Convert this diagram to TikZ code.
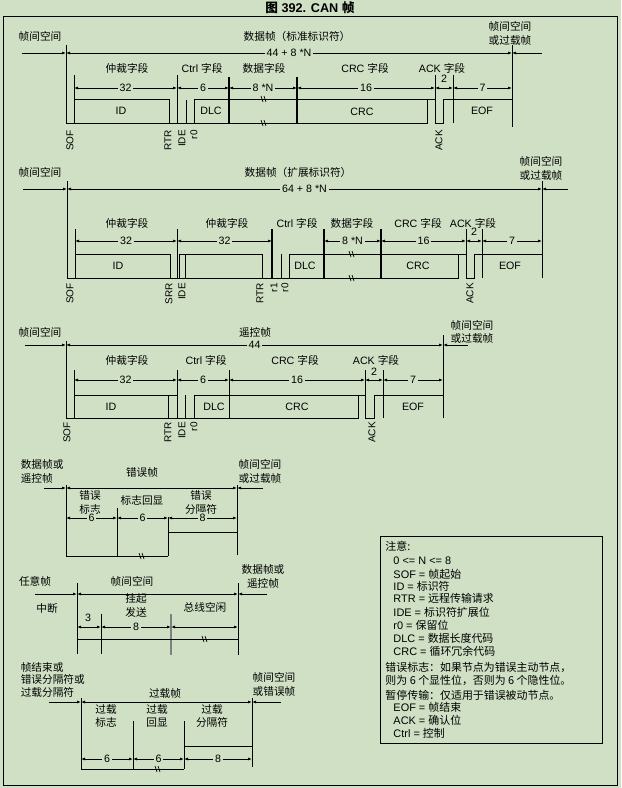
\documentclass[tikz,border=0pt]{standalone}
\usepackage{fontspec}
\setmainfont{Liberation Sans}
\newfontfamily\zh{Noto Sans CJK SC}
\usepackage{xcolor}
\usetikzlibrary{arrows.meta}
\definecolor{bggreen}{RGB}{207,224,196}

\begin{document}
\begin{tikzpicture}[x=0.75pt,y=-0.75pt,line width=0.7pt]
	\tikzstyle{lab}=[inner sep=1pt,align=center,font=\fontsize{8}{10}\selectfont]
	\tikzstyle{zlab}=[lab,font=\zh\fontsize{8}{10}\selectfont]
	\tikzstyle{dlab}=[lab,fill=bggreen,inner sep=1.5pt]
	\tikzstyle{bit}=[lab,rotate=90,anchor=east,font=\fontsize{7.5}{8}\selectfont,inner sep=0.5pt]
	\tikzstyle{lead}=[-{Latex[length=3pt,width=2.2pt]}]
	\tikzstyle{dimline}=[{Latex[length=3pt,width=2.2pt]}-{Latex[length=3pt,width=2.2pt]}]
	\tikzstyle{heavy}=[line width=1.1pt]
	\tikzstyle{brk}=[line width=0.5pt]
	\tikzstyle{note}=[anchor=west,inner sep=0pt,font=\fontsize{8.2}{10}\selectfont]

	\fill[bggreen] (0,0) rectangle (621,788);
	\useasboundingbox (0,0) rectangle (621,788);
	\draw (3,16) rectangle (617,785);
	\node[font=\bfseries\fontsize{9.5}{11}\selectfont] (title) at (310,8) {{\zh 图} 392. CAN {\zh 帧}};

	% data frame, standard identifier
	\node[zlab] (f1l) at (40,36) {帧间空间};
	\node[zlab] (f1t) at (297,36) {数据帧（标准标识符）};
	\node[zlab] (f1r) at (510,33.5) {帧间空间\\或过载帧};
	\draw[lead] (22,53) -- (66,53);
	\draw[dimline] (66,53) -- node[dlab] (f1n) {44 + 8 *N} (512,53);
	\draw[lead] (542,53) -- (512,53);
	\foreach \x/\t [count=\i] in {127/{\zh 仲裁字段},202/{Ctrl \zh 字段},264/{\zh 数据字段},365/{CRC \zh 字段},442/{ACK \zh 字段}}
		\node[lab] (f1f\i) at (\x,68) {\t};
	\foreach \a/\b/\t [count=\i] in {74/177/32,177/229/6,229/297/8 *N,297/435/16,453/512/7}
		\draw[dimline] (\a,88) -- node[dlab] (f1d\i) {\t} (\b,88);
	\draw[dimline] (435,88) -- (453,88);
	\node[lab] (f1two) at (444,79) {2};
	\draw (66,45) -- (66,123) -- (427,123) -- (427,99);
	\draw (74,75) -- (74,123) (74,99) -- (169,99) -- (169,123);
	\draw (177,75) -- (177,123) (186,100) -- (186,123);
	\draw (194,123) -- (194,99) -- (435,99);
	\draw[heavy] (229,77) -- (229,123) (297,77) -- (297,123);
	\draw (435,75) -- (435,123) -- (443,123) -- (443,99) -- (512,99);
	\draw (453,75) -- (453,123) (512,45) -- (512,127);
	\foreach \x/\y in {264/99,264/123}
		\draw[brk] (\x-3,\y-3) -- ++(2,6) (\x,\y-3) -- ++(2,6);
	\node[lab] (f1id) at (121,111) {ID};
	\node[lab] (f1dlc) at (211,111) {DLC};
	\node[lab] (f1crc) at (362,112) {CRC};
	\node[lab] (f1eof) at (482,111) {EOF};
	\foreach \x/\t in {70/SOF,168/RTR,182/IDE,194/r0,439/ACK}
		\node[bit] (f1\t) at (\x,129) {\t};

	% data frame, extended identifier
	\node[zlab] (f2l) at (40,172) {帧间空间};
	\node[zlab] (f2t) at (298,172) {数据帧（扩展标识符）};
	\node[zlab] (f2r) at (541,168.5) {帧间空间\\或过载帧};
	\draw[lead] (23,189) -- (67,189);
	\draw[dimline] (67,189) -- node[dlab] (f2n) {64 + 8 *N} (542,189);
	\draw[lead] (568,189) -- (542,189);
	\foreach \x/\t [count=\i] in {127/{\zh 仲裁字段},227/{\zh 仲裁字段},297/{Ctrl \zh 字段},352/{\zh 数据字段},418/{CRC \zh 字段},473/{ACK \zh 字段}}
		\node[lab] (f2f\i) at (\x,223) {\t};
	\foreach \a/\b/\t [count=\i] in {75/177/32,177/272/32,324/381/8 *N,381/466/16,482/542/7}
		\draw[dimline] (\a,241) -- node[dlab] (f2d\i) {\t} (\b,241);
	\draw[dimline] (466,241) -- (482,241);
	\node[lab] (f2two) at (474,232) {2};
	\draw (67,181) -- (67,278) -- (458,278) -- (458,254);
	\draw (75,229) -- (75,278) (75,254) -- (170,254) -- (170,278);
	\draw (177,229) -- (177,278) (179,278) -- (179,254) -- (262,254) -- (262,278);
	\draw (185,254) -- (185,278) (281,254) -- (281,278);
	\draw (289,278) -- (289,254) -- (466,254);
	\draw[heavy] (272,229) -- (272,278) (324,229) -- (324,278) (381,229) -- (381,278);
	\draw (466,229) -- (466,278) -- (474,278) -- (474,254) -- (542,254);
	\draw (482,229) -- (482,278) (542,181) -- (542,278);
	\foreach \x/\y in {352/254,352/278}
		\draw[brk] (\x-3,\y-3) -- ++(2,6) (\x,\y-3) -- ++(2,6);
	\node[lab] (f2id) at (118,266) {ID};
	\node[lab] (f2dlc) at (305,266) {DLC};
	\node[lab] (f2crc) at (418,266) {CRC};
	\node[lab] (f2eof) at (510,266) {EOF};
	\foreach \x/\t in {70/SOF,169/SRR,182/IDE,260/RTR,274/r1,285/r0,470/ACK}
		\node[bit] (f2\t) at (\x,282) {\t};

	% remote frame
	\node[zlab] (f3l) at (40,332) {帧间空间};
	\node[zlab] (f3t) at (255,332) {遥控帧};
	\node[zlab] (f3r) at (472,332) {帧间空间\\或过载帧};
	\draw[lead] (25,345) -- (66,345);
	\draw[dimline] (66,345) -- node[dlab] (f3n) {44} (443,345);
	\draw[lead] (468,345) -- (443,345);
	\foreach \x/\t [count=\i] in {127/{\zh 仲裁字段},206/{Ctrl \zh 字段},295/{CRC \zh 字段},376/{ACK \zh 字段}}
		\node[lab] (f3f\i) at (\x,360) {\t};
	\foreach \a/\b/\t [count=\i] in {74/177/32,177/229/6,229/365/16,383/443/7}
		\draw[dimline] (\a,380) -- node[dlab] (f3d\i) {\t} (\b,380);
	\draw[dimline] (365,380) -- (383,380);
	\node[lab] (f3two) at (374,372) {2};
	\draw (66,341) -- (66,418) -- (358,418) -- (358,395);
	\draw (74,370) -- (74,418) (74,395) -- (177,395) (168,395) -- (168,418);
	\draw (177,370) -- (177,418) (185,395) -- (185,418);
	\draw (194,418) -- (194,395) -- (365,395) (229,370) -- (229,418);
	\draw (365,370) -- (365,418) -- (374,418) -- (374,395) -- (443,395);
	\draw (383,370) -- (383,418) (443,335) -- (443,418);
	\node[lab] (f3id) at (111,407) {ID};
	\node[lab] (f3dlc) at (214,407) {DLC};
	\node[lab] (f3crc) at (297,407) {CRC};
	\node[lab] (f3eof) at (413,407) {EOF};
	\foreach \x/\t in {67/SOF,168/RTR,182/IDE,194/r0,372/ACK}
		\node[bit] (f3\t) at (\x,421) {\t};

	% error frame
	\node[zlab,align=left,anchor=west] (e1l) at (19,471.5) {数据帧或\\遥控帧};
	\node[zlab] (e1t) at (142,472) {错误帧};
	\node[zlab] (e1r) at (260,471.5) {帧间空间\\或过载帧};
	\draw[lead] (44,488) -- (66,488);
	\draw[dimline] (66,488) -- (237,488);
	\draw[lead] (263,488) -- (237,488);
	\draw (66,485) -- (66,556) -- (168,556) (117,508) -- (117,556);
	\draw (168,517) -- (168,556) (168,532) -- (237,532) (237,485) -- (237,555);
	\draw[brk] (139,553) -- ++(2,6) (142,553) -- ++(2,6);
	\node[zlab] (e1a) at (90,502.5) {错误\\标志};
	\node[zlab] (e1b) at (142,500) {标志回显};
	\node[zlab] (e1c) at (201,502.5) {错误\\分隔符};
	\foreach \a/\b/\t [count=\i] in {66/117/6,117/168/6,168/237/8}
		\draw[dimline] (\a,518) -- node[dlab] (e1d\i) {\t} (\b,518);

	% interframe space
	\node[zlab] (s1l) at (35,581) {任意帧};
	\node[zlab] (s1t) at (132,581) {帧间空间};
	\node[zlab] (s1r) at (263,576.5) {数据帧或\\遥控帧};
	\draw[lead] (35,594) -- (77,594);
	\draw[dimline] (77,594) -- (238,594);
	\draw[lead] (267,594) -- (238,594);
	\node[zlab] (s1a) at (47,608) {中断};
	\node[zlab] (s1b) at (136,605.5) {挂起\\发送};
	\node[zlab] (s1c) at (205,607) {总线空闲};
	\draw (77,583) -- (77,654) (101,614) -- (101,654) (238,583) -- (238,655);
	\draw[gray,line width=1.2pt] (171,614) -- (171,655);
	\draw (77,639) -- (238,639);
	\draw[brk] (202,636) -- ++(2,6) (205,636) -- ++(2,6);
	\draw[dimline] (77,627) -- (101,627);
	\node[lab] (s1three) at (88,618) {3};
	\draw[dimline] (101,627) -- node[dlab] (s1d) {8} (171,627);
	\draw[dimline] (171,627) -- (238,627);

	% overload frame
	\node[zlab,align=left,anchor=west,font=\zh\fontsize{8}{9.4}\selectfont] (o1l) at (19,679.5) {帧结束或\\错误分隔符或\\过载分隔符};
	\node[zlab] (o1t) at (165,693) {过载帧};
	\node[zlab] (o1r) at (274,684.5) {帧间空间\\或错误帧};
	\draw[lead] (49,702) -- (81,702);
	\draw[dimline] (81,702) -- (252,702);
	\draw[lead] (281,702) -- (252,702);
	\node[zlab] (o1a) at (106,716) {过载\\标志};
	\node[zlab] (o1b) at (157,716) {过载\\回显};
	\node[zlab] (o1c) at (212,716) {过载\\分隔符};
	\draw (81,698) -- (81,769) -- (184,769) (133,721) -- (133,769);
	\draw (184,721) -- (184,769) (184,746) -- (252,746) (252,698) -- (252,767);
	\draw[brk] (155,766) -- ++(2,6) (158,766) -- ++(2,6);
	\foreach \a/\b/\t [count=\i] in {81/133/6,133/184/6,184/252/8}
		\draw[dimline] (\a,759) -- node[dlab] (o1d\i) {\t} (\b,759);

	% notes
	\draw (380,536) rectangle (602,743);
	\node[note] (n0) at (385,546) {\zh 注意:};
	\foreach \y/\t [count=\i] in {561/{0 <= N <= 8},574/{SOF = \zh 帧起始},586/{ID = \zh 标识符},598/{RTR = \zh 远程传输请求},
		612/{IDE = \zh 标识符扩展位},625/{r0 = \zh 保留位},638/{DLC = \zh 数据长度代码},651/{CRC = \zh 循环冗余代码}}
		\node[note] (n\i) at (393,\y) {\t};
	\node[note,font=\zh\fontsize{8.2}{10}\selectfont] (n9) at (385,667) {错误标志：如果节点为错误主动节点，};
	\node[note,font=\zh\fontsize{8.2}{10}\selectfont] (n10) at (385,680) {则为 6 个显性位，否则为 6 个隐性位。};
	\node[note,font=\zh\fontsize{8.2}{10}\selectfont] (n11) at (385,695) {暂停传输：仅适用于错误被动节点。};
	\foreach \y/\t [count=\i from 12] in {707/{EOF = \zh 帧结束},720/{ACK = \zh 确认位},733/{Ctrl = \zh 控制}}
		\node[note] (n\i) at (393,\y) {\t};
\end{tikzpicture}
\end{document}
